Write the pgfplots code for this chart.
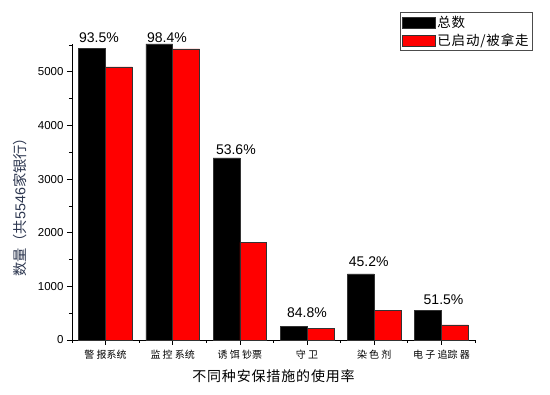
\documentclass[border=0pt]{standalone}
\usepackage{pgfplots}
\pgfplotsset{compat=1.18}
\usepackage{fontspec}
\setmainfont{Liberation Sans}
\newfontfamily\cjk{Noto Sans CJK SC}
\newfontfamily\cjkl[LetterSpace=6]{Noto Sans CJK SC}
\definecolor{ylab}{RGB}{45,55,80}
\begin{document}
\begin{tikzpicture}
\path[use as bounding box] (-72pt,-55pt) rectangle (478pt,340pt);
\begin{axis}[
  at={(0,0)}, anchor=south west,
  scale only axis, width=403pt, height=296pt,
  xmin=0.5, xmax=6.5, ymin=0, ymax=5520,
  clip=false,
  axis x line*=bottom, axis y line*=left,
  axis line style={line width=0.8pt, -},
  ybar=0pt, bar width=26.87pt,
  xtick={1,...,6},
  xticklabels={警 报系统, 监 控 系统, 诱 饵 钞票, 守 卫, 染 色 剂, 电 子 追踪 器},
  minor xtick={0.5,1.5,...,6.5},
  ytick={0,1000,...,5000},
  minor ytick={500,1500,...,5500},
  tick align=outside,
  major tick length=5pt, minor tick length=3pt,
  tick style={black, line width=0.8pt},
  /pgf/number format/assume math mode=true,
  /pgf/number format/set thousands separator={},
  xticklabel style={font=\cjk\fontsize{10}{12}\selectfont, yshift=-2pt},
  yticklabel style={font=\fontsize{11.5}{13}\selectfont},
  xlabel={\cjkl 不同种安保措施的使用率},
  xlabel style={at={(axis description cs:0.5,-0.121)}, anchor=center, font=\fontsize{14}{16}\selectfont},
  ylabel={{\cjk 数量（共}5546{\cjk 家银行）}},
  ylabel style={at={(axis description cs:-0.129,0.46)}, anchor=center, rotate=0, text=ylab, font=\fontsize{14.3}{16}\selectfont},
  legend style={at={(axis description cs:0.814,1.107)}, anchor=north west, draw=black!70, line width=0.6pt,
    font=\cjkl\fontsize{13.5}{15}\selectfont, inner sep=1.5pt, row sep=1pt,
    /tikz/every even column/.append style={column sep=0pt}},
  legend cell align=left,
  legend image code/.code={\draw[#1] (0pt,-5.5pt) rectangle (33pt,5.5pt);},
]
\addplot[fill=black, draw=black!80, line width=0.6pt] coordinates {(1,5442) (2,5520) (3,3396) (4,255) (5,1231) (6,547)};
\addlegendentry{总数}
\addplot[fill=red, draw=black!80, line width=0.6pt] coordinates {(1,5093) (2,5430) (3,1820) (4,216) (5,556) (6,282)};
\addlegendentry{已启动/被拿走}
\begin{scope}[every node/.style={anchor=base, font=\fontsize{14}{16}\selectfont, inner sep=0pt}]
\node at (axis cs:0.902,5547) {93.5\%};
\node at (axis cs:1.914,5550) {98.4\%};
\node at (axis cs:2.940,3464) {53.6\%};
\node at (axis cs:3.998,416) {84.8\%};
\node at (axis cs:4.917,1368) {45.2\%};
\node at (axis cs:6.032,666) {51.5\%};
\end{scope}
\end{axis}
\end{tikzpicture}
\end{document}
